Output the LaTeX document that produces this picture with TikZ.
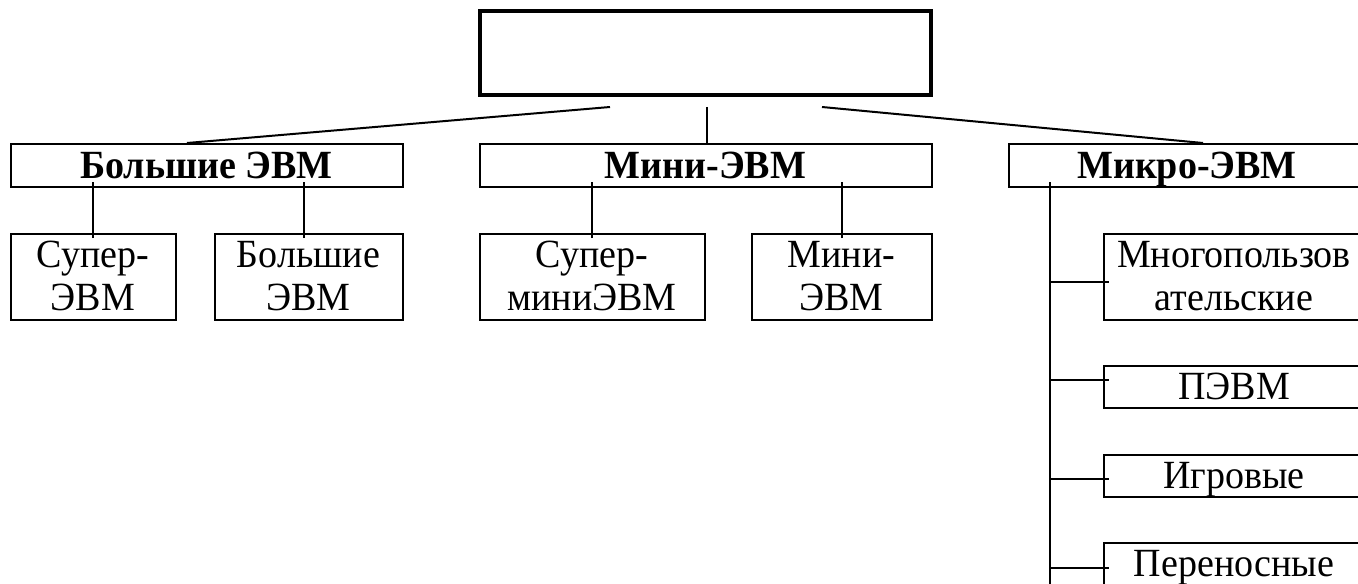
\documentclass[tikz,border=0pt]{standalone}
\usepackage{fontspec}
\setmainfont{Liberation Serif}[FakeStretch=0.95]
\usetikzlibrary{calc}

\begin{document}
\begin{tikzpicture}[
  x=0.5pt, y=-0.5pt,
  every node/.style={font=\fontsize{20}{20}\selectfont},
  rootbox/.style={draw, line width=2pt, minimum width=225.5pt, minimum height=42pt, inner sep=0pt},
  groupbox/.style={draw, line width=1pt, inner sep=0pt, text height=17pt, text depth=4.5pt, font=\fontsize{20}{20}\selectfont\bfseries},
  leafbox/.style={draw, line width=1pt, inner sep=0pt, text height=38pt, text depth=5pt, align=center, font=\fontsize{20}{21.5}\selectfont},
  rowbox/.style={draw, line width=1pt, minimum width=130.5pt, inner sep=0pt, text height=16.5pt, text depth=4.5pt},
  link/.style={line width=1pt}
]
\useasboundingbox (0,0) rectangle (1358,583);

\node[rootbox] (root) at (705.5,53) {};

\node[groupbox, minimum width=196pt] (big) at (206.5,165.5) {Большие ЭВМ};
\node[groupbox, minimum width=226pt] (mini) at (705.5,165.5) {Мини-ЭВМ};
\node[groupbox, minimum width=178.5pt] (micro) at (1187,165.5) {Микро-ЭВМ};

\node[leafbox, minimum width=82.5pt] (superbig) at (93,277) {Супер-\\ЭВМ};
\node[leafbox, minimum width=94pt] (bigbig) at (308.5,277) {Большие\\ЭВМ};
\node[leafbox, minimum width=112.5pt] (supermini) at (592,277) {Супер-\\миниЭВМ};
\node[leafbox, minimum width=90pt] (minimini) at (841.5,277) {Мини-\\ЭВМ};

\node[leafbox, minimum width=130.5pt] (multi) at (1234,277) {Многопользов\\ательские};
\node[rowbox] (pc) at (1234,387) {ПЭВМ};
\node[rowbox] (game) at (1234,476) {Игровые};
\node[rowbox] (portable) at (1234,564) {Переносные};

% root to groups
\draw[link] ($(root.south)+(-95.5,10)$) -- ($(big.north west)+(177.5,0)$);
\draw[link] ($(root.south)+(1.5,10)$) -- ($(root.south |- mini.north)+(1.5,0)$);
\draw[link] ($(root.south)+(116.5,10)$) -- ($(micro.north west)+(195.5,0)$);

% groups to leaves
\draw[link] ([yshift=-2.5pt]superbig.north) -- ([yshift=3pt]superbig.north |- big.south);
\draw[link] ([xshift=-2.5pt,yshift=-2.5pt]bigbig.north) -- ([xshift=-2.5pt,yshift=3pt]bigbig.north |- big.south);
\draw[link] ([yshift=-2.5pt]supermini.north) -- ([yshift=3pt]supermini.north |- mini.south);
\draw[link] ([yshift=-2.5pt]minimini.north) -- ([yshift=3pt]minimini.north |- mini.south);

% micro column
\coordinate (trunk) at ($(micro.south west)+(42,-6)$);
\draw[link] (trunk) -- (trunk |- portable.south);
\draw[link] ($(trunk |- multi.west)+(0,5)$) -- ($(multi.west)+(6,5)$);
\draw[link] ($(trunk |- pc.west)+(0,-7)$) -- ($(pc.west)+(6,-7)$);
\draw[link] ($(trunk |- game.west)+(0,3)$) -- ($(game.west)+(6,3)$);
\draw[link] ($(trunk |- portable.west)+(0,4)$) -- ($(portable.west)+(6,4)$);
\end{tikzpicture}
\end{document}
